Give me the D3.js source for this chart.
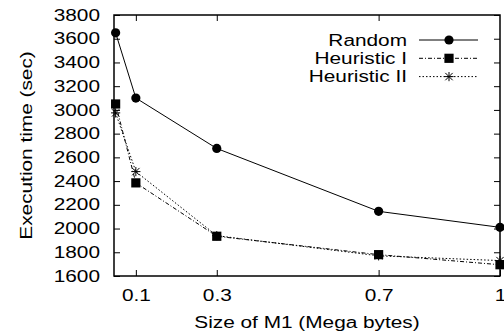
<!DOCTYPE html>
<html><head><meta charset="utf-8">
<script src="https://cdn.jsdelivr.net/npm/d3@7"></script>
<style>body{margin:0;background:#fff}svg{display:block}</style>
</head><body><svg id="c" width="504" height="334"></svg>
<script>
const sizes = [0.05, 0.1, 0.3, 0.7, 1];
const randomTimes = [3650, 3100, 2675, 2145, 2010];
const heuristic1Times = [3050, 2385, 1935, 1780, 1695];
const heuristic2Times = [2975, 2480, 1940, 1770, 1730];
const xTicks = [0.1, 0.3, 0.7, 1];
const yTicks = [1600,1800,2000,2200,2400,2600,2800,3000,3200,3400,3600,3800];
const seriesNames = ["Random", "Heuristic I", "Heuristic II"];

const svg = d3.select("#c");
const L = 114, R = 500, T = 15, B = 276;
const x = d3.scaleLinear().domain([0.046, 1]).range([L, R]);
const y = d3.scaleLinear().domain([1600, 3800]).range([B, T]);
const FONT = "'Liberation Sans', Arial, Helvetica, sans-serif";
const STRETCH = 1.3;

function stretch(sel) {
  sel.each(function() {
    const w = this.getComputedTextLength();
    d3.select(this).attr("textLength", w * STRETCH).attr("lengthAdjust", "spacingAndGlyphs");
  });
}

// axes with inward ticks
const tl = 6;
const g = svg.append("g");
g.append("g").attr("transform", `translate(0,${B})`)
  .call(d3.axisBottom(x).tickValues(xTicks).tickFormat(d3.format("")).tickSize(-tl).tickPadding(14))
  .call(a => { a.select(".domain").remove(); a.selectAll("text").attr("font-size", 16).attr("font-family", FONT).attr("fill", "#000").call(stretch); });
g.append("g").attr("transform", `translate(0,${T})`)
  .call(d3.axisTop(x).tickValues(xTicks.filter(d => d < 1)).tickFormat("").tickSize(-tl))
  .call(a => a.select(".domain").remove());
g.append("g").attr("transform", `translate(${L},0)`)
  .call(d3.axisLeft(y).tickValues(yTicks).tickFormat(d3.format("d")).tickSize(-tl).tickPadding(14))
  .call(a => { a.select(".domain").remove(); a.selectAll("text").attr("font-size", 16).attr("font-family", FONT).attr("fill", "#000").call(stretch); });
g.append("g").attr("transform", `translate(${R},0)`)
  .call(d3.axisRight(y).tickValues(yTicks).tickFormat("").tickSize(-tl))
  .call(a => a.select(".domain").remove());
g.selectAll(".tick line").attr("stroke", "#000").attr("stroke-width", 1);

svg.append("rect").attr("x", L).attr("y", T).attr("width", R - L).attr("height", B - T)
  .attr("fill", "none").attr("stroke", "#000").attr("stroke-width", 1.5);

// labels
svg.append("text").attr("x", (L + R) / 2 - 0).attr("y", 328).attr("text-anchor", "middle")
  .attr("font-size", 16).attr("font-family", FONT).text("Size of M1 (Mega bytes)").call(stretch);
svg.append("text").attr("transform", `translate(32,${(T + B) / 2}) rotate(-90)`).attr("text-anchor", "middle")
  .attr("font-size", 16).attr("font-family", FONT).text("Execution time (sec)").call(stretch);

const data = [randomTimes, heuristic1Times, heuristic2Times];
const dashes = [null, "4,2,1,2", "1.5,2"];
const line = d3.line().x((d, i) => x(sizes[i])).y(d => y(d));

function marker(sel, k, cx, cy) {
  if (k === 0) sel.append("circle").attr("cx", cx).attr("cy", cy).attr("r", 4.6).attr("fill", "#000");
  else if (k === 1) sel.append("rect").attr("x", cx - 4.6).attr("y", cy - 4.6).attr("width", 9.2).attr("height", 9.2).attr("fill", "#000");
  else {
    const s = 4.6, gg = sel.append("g").attr("stroke", "#000").attr("stroke-width", 1);
    gg.append("line").attr("x1", cx - s).attr("x2", cx + s).attr("y1", cy).attr("y2", cy);
    gg.append("line").attr("x1", cx).attr("x2", cx).attr("y1", cy - s).attr("y2", cy + s);
    gg.append("line").attr("x1", cx - s * 0.8).attr("x2", cx + s * 0.8).attr("y1", cy - s * 0.8).attr("y2", cy + s * 0.8);
    gg.append("line").attr("x1", cx - s * 0.8).attr("x2", cx + s * 0.8).attr("y1", cy + s * 0.8).attr("y2", cy - s * 0.8);
  }
}

data.forEach((vals, k) => {
  svg.append("path").attr("d", line(vals)).attr("fill", "none").attr("stroke", "#000")
    .attr("stroke-width", 1).attr("stroke-dasharray", dashes[k]);
});
data.forEach((vals, k) => {
  const mg = svg.append("g");
  vals.forEach((v, i) => marker(mg, k, x(sizes[i]), y(v)));
});

// legend
const legY = [40, 58.3, 76.6];
seriesNames.forEach((n, k) => {
  svg.append("text").attr("x", 407).attr("y", legY[k] + 5.8).attr("text-anchor", "end")
    .attr("font-size", 16).attr("font-family", FONT).text(n).call(stretch);
  svg.append("line").attr("x1", 419).attr("x2", 478).attr("y1", legY[k]).attr("y2", legY[k])
    .attr("stroke", "#000").attr("stroke-width", 1).attr("stroke-dasharray", dashes[k]);
  marker(svg, k, 449, legY[k]);
});
</script></body></html>
